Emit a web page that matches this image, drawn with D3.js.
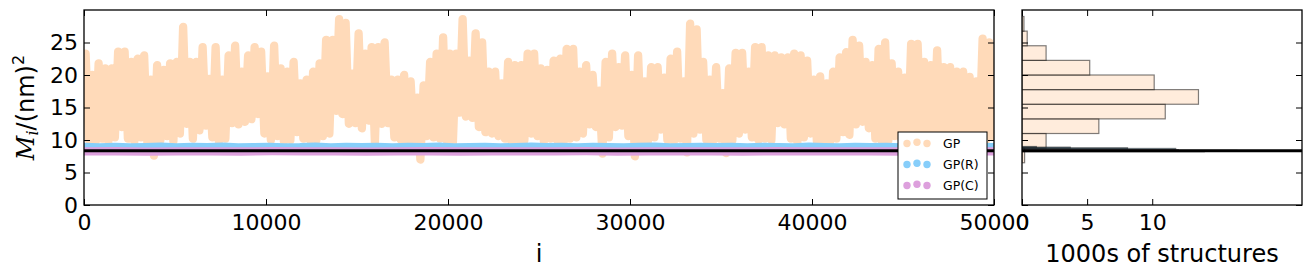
<!DOCTYPE html>
<html>
<head>
<meta charset="utf-8">
<script src="https://cdn.jsdelivr.net/npm/d3@7"></script>
<style>
body { margin: 0; background: #fff; }
svg { display: block; }
text { font-family: "DejaVu Sans", sans-serif; }
</style>
</head>
<body>
<script>
// GP trace: upper and lower turning points, in order along i
const gpPeaks = [23.3, 20.0, 21.8, 21.0, 21.0, 23.6, 23.6, 22.0, 22.5, 23.0, 19.3, 21.5, 20.8, 21.8, 22.0, 27.4, 22.0, 22.0, 24.3, 19.4, 24.3, 19.3, 23.0, 24.5, 20.5, 23.0, 24.3, 23.6, 19.8, 24.5, 21.0, 20.5, 22.0, 18.7, 19.3,
	20.5, 21.8, 25.4, 25.4, 28.6, 28.0, 20.2, 26.4, 23.3, 24.3, 24.3, 25.0, 19.3, 19.3, 20.0, 19.0, 16.5, 18.4, 22.0, 23.3, 25.8, 23.3, 23.3, 28.6, 22.2, 26.4, 25.0, 20.5, 20.5, 18.7, 22.0, 21.5, 21.5, 23.3, 23.3,
	21.0, 20.8, 22.2, 22.5, 24.0, 24.0, 20.5, 21.5, 20.0, 17.6, 22.0, 23.3, 21.2, 23.0, 20.0, 23.0, 19.0, 21.2, 21.2, 19.6, 22.5, 23.6, 19.0, 27.9, 27.0, 22.0, 19.3, 21.2, 17.2, 21.0, 23.4, 23.4, 20.5, 24.3, 24.3,
	23.0, 23.0, 22.7, 22.7, 23.3, 23.0, 22.2, 19.3, 19.8, 18.7, 20.5, 22.7, 23.5, 25.4, 24.5, 22.0, 21.5, 24.0, 25.0, 21.8, 20.5, 19.6, 24.8, 24.8, 22.0, 21.5, 23.8, 21.2, 21.2, 20.5, 20.5, 19.7, 19.0, 25.6, 25.0]
const gpTroughs = [10.0, 9.6, 10.2, 9.8, 10.4, 12.0, 10.2, 9.8, 10.4, 9.6, 7.6, 10.0, 10.6, 9.8, 11.0, 12.5, 10.2, 11.5, 12.2, 10.4, 9.8, 10.2, 12.6, 12.4, 12.8, 13.2, 14.0, 11.0, 10.0, 10.6, 9.8, 10.0, 11.2, 10.2, 10.0,
	10.0, 10.6, 11.0, 14.5, 14.0, 12.5, 12.6, 11.8, 13.0, 9.6, 12.5, 12.6, 10.4, 10.0, 9.6, 9.8, 7.0, 10.6, 10.4, 10.2, 10.0, 9.6, 14.2, 13.6, 13.4, 12.0, 11.2, 11.0, 10.6, 10.2, 9.8, 9.6, 10.0, 11.0, 10.6,
	9.8, 10.2, 10.0, 9.6, 10.2, 10.4, 11.0, 12.4, 12.0, 7.9, 10.4, 12.0, 12.2, 10.6, 7.5, 10.0, 9.8, 10.4, 11.6, 10.0, 9.8, 10.2, 8.1, 11.0, 11.6, 10.0, 9.8, 10.2, 8.0, 10.0, 11.0, 11.6, 10.4, 10.0, 10.2,
	10.0, 12.6, 12.4, 10.2, 9.6, 10.4, 11.0, 9.8, 10.0, 9.6, 10.2, 11.2, 10.8, 12.4, 12.8, 11.8, 10.2, 9.8, 10.0, 10.6, 10.2, 9.8, 10.4, 11.4, 11.0, 10.2, 10.0, 10.4, 10.6, 10.2, 9.8, 10.0, 10.4, 10.0, 10.6]

const gprValues = [8.92, 8.88, 8.95, 8.86, 8.90, 8.97, 8.87, 8.93, 8.89, 8.96, 8.85, 8.91, 8.94, 8.88, 8.90, 8.98, 8.86, 8.92, 8.89, 8.95,
	8.87, 8.93, 8.90, 8.96, 8.88, 8.91, 8.94, 8.86, 8.90, 8.97, 8.89, 8.92, 8.87, 8.95, 8.90, 8.88, 8.93, 8.96, 8.86, 8.91,
	8.94, 8.89, 8.92, 8.87, 8.95, 8.90, 8.88, 8.97, 8.91, 8.86, 8.93, 8.90, 8.94, 8.88, 8.92, 8.96, 8.87, 8.91, 8.93, 8.90]
const gpcValues = [8.24, 8.27, 8.22, 8.26, 8.25, 8.23, 8.28, 8.24, 8.26, 8.22, 8.25, 8.27, 8.23, 8.26, 8.24,
	8.25, 8.28, 8.22, 8.26, 8.24, 8.25, 8.23, 8.27, 8.25, 8.24, 8.26, 8.23, 8.25, 8.27, 8.24]
const meanLevel = 8.35

// histograms, counts in 1000s of structures
const histEdges = [6.5, 8.75, 11.0, 13.25, 15.5, 17.75, 20.0, 22.25, 24.5, 26.75, 29.0]
const histCounts = [0.2, 1.85, 5.9, 11.0, 13.55, 10.15, 5.2, 1.85, 0.4, 0.15]
const histREdges = [8.6, 8.7, 8.8, 8.9, 9.0]
const histRCounts = [11.8, 8.1, 3.7, 1.1]
const histCEdges = [8.2, 8.3, 8.4, 8.5]
const histCCounts = [14.0, 16.5, 12.0]

const xTicks = [0, 10000, 20000, 30000, 40000, 50000]
const yTicks = [0, 5, 10, 15, 20, 25]
const histTicks = [0, 5, 10]
const legendNames = ['GP', 'GP(R)', 'GP(C)']
const colors = ['#ffdab9', '#87cefa', '#dda0dd']

const W = 1312, H = 275
const L = {x0: 84, x1: 994, y0: 10, y1: 205}
const R = {x0: 1022, x1: 1302}

const svg = d3.select('body').append('svg').attr('width', W).attr('height', H)

const x = d3.scaleLinear().domain([0, 50000]).range([L.x0, L.x1])
const y = d3.scaleLinear().domain([0, 30]).range([L.y1, L.y0])
const hx = d3.scaleLinear().domain([0, 21.5]).range([R.x0, R.x1])

svg.append('clipPath').attr('id', 'clipL').append('rect')
	.attr('x', L.x0).attr('y', L.y0).attr('width', L.x1 - L.x0).attr('height', L.y1 - L.y0)
svg.append('clipPath').attr('id', 'clipR').append('rect')
	.attr('x', R.x0).attr('y', L.y0).attr('width', R.x1 - R.x0).attr('height', L.y1 - L.y0)

// build the GP zigzag from the turning points
const step = 50000 / gpPeaks.length
const gp = []
gpPeaks.forEach((p, k) => {
	gp.push([(k + 0.25) * step, p])
	gp.push([(k + 0.75) * step, gpTroughs[k]])
})
const spread = arr => arr.map((v, k) => [k * 50000 / (arr.length - 1), v])

const line = d3.line().x(d => x(d[0])).y(d => y(d[1]))
const plot = svg.append('g').attr('clip-path', 'url(#clipL)')
;[gp, spread(gprValues), spread(gpcValues)].forEach((s, k) => {
	plot.append('path')
		.attr('d', line(s))
		.attr('fill', 'none')
		.attr('stroke', colors[k])
		.attr('stroke-width', 8.3)
		.attr('stroke-linejoin', 'round')
		.attr('stroke-linecap', 'round')
})
plot.append('line')
	.attr('x1', L.x0).attr('x2', L.x1)
	.attr('y1', y(meanLevel)).attr('y2', y(meanLevel))
	.attr('stroke', '#000').attr('stroke-width', 3)

// histogram panel
const hist = svg.append('g').attr('clip-path', 'url(#clipR)')
function bars(edges, counts, fill, op) {
	hist.selectAll(null).data(counts).enter().append('rect')
		.attr('x', hx(0))
		.attr('y', (d, k) => y(edges[k + 1]))
		.attr('width', d => hx(d) - hx(0))
		.attr('height', (d, k) => y(edges[k]) - y(edges[k + 1]))
		.attr('fill', fill).attr('fill-opacity', op)
		.attr('stroke', '#000').attr('stroke-opacity', 0.5).attr('stroke-width', 1.2)
}
bars(histEdges, histCounts, colors[0], 0.5)
bars(histREdges, histRCounts, colors[1], 0.5)
bars(histCEdges, histCCounts, colors[2], 0.5)
hist.append('line')
	.attr('x1', R.x0).attr('x2', R.x1)
	.attr('y1', y(meanLevel)).attr('y2', y(meanLevel))
	.attr('stroke', '#000').attr('stroke-width', 3)

// axes, ticks pointing inward
function styleAxis(g) {
	g.select('.domain').remove()
	g.selectAll('.tick line').attr('stroke', '#000').attr('stroke-width', 1)
	g.selectAll('text').attr('font-size', 22).attr('fill', '#000')
		.attr('font-family', '"DejaVu Sans", sans-serif')
}
svg.append('g').attr('transform', `translate(0,${L.y1})`)
	.call(d3.axisBottom(x).tickValues(xTicks).tickSize(-6).tickPadding(9).tickFormat(d3.format('d')))
	.call(styleAxis)
svg.append('g').attr('transform', `translate(0,${L.y0})`)
	.call(d3.axisTop(x).tickValues(xTicks).tickSize(-6).tickFormat(''))
	.call(styleAxis)
svg.append('g').attr('transform', `translate(${L.x0},0)`)
	.call(d3.axisLeft(y).tickValues(yTicks).tickSize(-6).tickPadding(6))
	.call(styleAxis)
svg.append('g').attr('transform', `translate(${L.x1},0)`)
	.call(d3.axisRight(y).tickValues(yTicks).tickSize(-6).tickFormat(''))
	.call(styleAxis)

svg.append('g').attr('transform', `translate(0,${L.y1})`)
	.call(d3.axisBottom(hx).tickValues(histTicks).tickSize(-6).tickPadding(9))
	.call(styleAxis)
svg.append('g').attr('transform', `translate(0,${L.y0})`)
	.call(d3.axisTop(hx).tickValues(histTicks).tickSize(-6).tickFormat(''))
	.call(styleAxis)
svg.append('g').attr('transform', `translate(${R.x0},0)`)
	.call(d3.axisLeft(y).tickValues(yTicks).tickSize(-6).tickFormat(''))
	.call(styleAxis)
svg.append('g').attr('transform', `translate(${R.x1},0)`)
	.call(d3.axisRight(y).tickValues(yTicks).tickSize(-6).tickFormat(''))
	.call(styleAxis)

// frames
svg.append('rect').attr('x', L.x0).attr('y', L.y0).attr('width', L.x1 - L.x0).attr('height', L.y1 - L.y0)
	.attr('fill', 'none').attr('stroke', '#000').attr('stroke-width', 1.3)
svg.append('rect').attr('x', R.x0).attr('y', L.y0).attr('width', R.x1 - R.x0).attr('height', L.y1 - L.y0)
	.attr('fill', 'none').attr('stroke', '#000').attr('stroke-width', 1.3)

// legend
const leg = svg.append('g').attr('transform', 'translate(898,132)')
leg.append('rect').attr('width', 89).attr('height', 67)
	.attr('fill', '#fff').attr('stroke', '#000').attr('stroke-width', 1)
legendNames.forEach((name, k) => {
	const row = leg.append('g').attr('transform', `translate(0,${11 + k * 21})`)
	;[9, 19, 29].forEach((cx, j) => {
		row.append('circle').attr('cx', cx).attr('cy', j == 1 ? -0.7 : 0.5).attr('r', 3.7).attr('fill', colors[k])
	})
	row.append('text').attr('x', 45).attr('y', 4.5).attr('font-size', 12.5).text(name)
})

// axis labels
svg.append('text').attr('x', (L.x0 + L.x1) / 2).attr('y', 262)
	.attr('text-anchor', 'middle').attr('font-size', 24).text('i')
svg.append('text').attr('x', (R.x0 + R.x1) / 2).attr('y', 262)
	.attr('text-anchor', 'middle').attr('font-size', 24).text('1000s of structures')

const ylab = svg.append('text')
	.attr('transform', `translate(34,${(L.y0 + L.y1) / 2}) rotate(-90)`)
	.attr('text-anchor', 'middle').attr('font-size', 24)
ylab.append('tspan').attr('font-family', '"DejaVu Serif", serif').attr('font-style', 'italic').text('M')
ylab.append('tspan').attr('font-family', '"DejaVu Serif", serif').attr('font-style', 'italic')
	.attr('font-size', 16).attr('dy', 4).text('i')
ylab.append('tspan').attr('dy', -4).text('/(nm)')
ylab.append('tspan').attr('font-size', 16).attr('dy', -10).text('2')
</script>
</body>
</html>
